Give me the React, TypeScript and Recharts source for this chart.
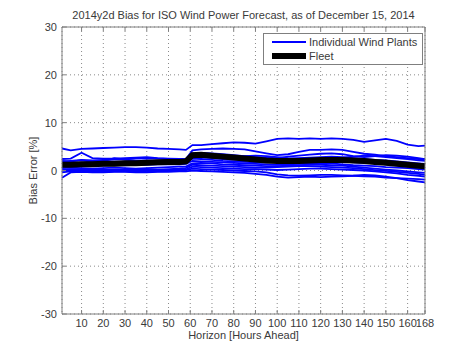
import { CartesianGrid, Legend, Line, LineChart, XAxis, YAxis } from "recharts";

// forecast horizon (hours ahead) at which values were read
const hours = [
	1, 5, 10, 15, 20, 25, 30, 35, 40, 45, 50, 55, 58, 61, 65, 70, 75, 80, 85, 90, 95, 100, 105, 110, 115, 120,
	125, 130, 135, 140, 145, 150, 155, 160, 165, 168,
];

const xTicks = [10, 20, 30, 40, 50, 60, 70, 80, 90, 100, 110, 120, 130, 140, 150, 160, 168];
const yTicks = [-30, -20, -10, 0, 10, 20, 30];

// bias error [%] per individual wind plant
const plant1 = [4.6, 4.2, 4.5, 4.6, 4.7, 4.8, 4.9, 4.9, 4.8, 4.6, 4.5, 4.4, 4.3, 5.3, 5.3, 5.5, 5.7, 5.9, 5.8, 5.6, 6.1, 6.6, 6.7, 6.6, 6.7, 6.6, 6.7, 6.6, 6.4, 6.0, 6.3, 6.6, 6.2, 5.4, 5.1, 5.2];
const plant2 = [2.4, 2.5, 3.7, 2.6, 2.5, 2.5, 2.6, 2.7, 2.8, 2.6, 2.5, 2.4, 2.4, 4.2, 4.4, 4.5, 4.6, 4.5, 4.4, 4.0, 3.6, 3.2, 3.4, 3.9, 4.3, 4.3, 4.4, 4.3, 3.9, 3.5, 3.3, 3.0, 2.8, 2.6, 2.4, 2.3];
const plant3 = [1.8, 2.0, 2.2, 2.1, 2.2, 2.3, 2.4, 2.5, 2.6, 2.5, 2.4, 2.3, 2.3, 3.6, 3.7, 3.6, 3.4, 3.2, 3.0, 2.8, 2.7, 2.6, 2.9, 3.1, 3.3, 3.5, 3.6, 3.4, 3.0, 2.8, 3.0, 3.2, 3.1, 2.9, 2.6, 2.4];
const plant4 = [1.5, 1.6, 1.6, 1.7, 1.8, 1.8, 1.9, 2.0, 2.1, 2.0, 1.9, 2.0, 2.1, 3.0, 2.8, 2.6, 2.4, 2.3, 2.2, 2.1, 2.0, 2.2, 2.4, 2.6, 2.7, 2.8, 2.9, 2.8, 2.6, 2.4, 2.2, 2.1, 1.9, 1.7, 1.5, 1.4];
const plant5 = [1.0, 1.1, 1.2, 1.2, 1.3, 1.4, 1.4, 1.5, 1.5, 1.6, 1.6, 1.7, 1.7, 2.5, 2.4, 2.2, 2.0, 1.9, 1.8, 1.7, 1.7, 1.8, 1.9, 2.0, 2.1, 2.1, 2.0, 1.9, 1.7, 1.6, 1.5, 1.3, 1.1, 0.9, 0.7, 0.6];
const plant6 = [0.8, 0.9, 0.9, 1.0, 1.0, 1.1, 1.1, 1.2, 1.2, 1.3, 1.3, 1.3, 1.4, 2.0, 1.9, 1.8, 1.7, 1.6, 1.5, 1.4, 1.3, 1.2, 1.3, 1.4, 1.5, 1.6, 1.5, 1.3, 1.1, 1.0, 0.9, 0.7, 0.6, 0.5, 0.3, 0.2];
const plant7 = [0.5, 0.6, 0.5, 0.4, 0.5, 0.6, 0.5, 0.4, 0.5, 0.6, 0.7, 0.8, 0.8, 1.5, 1.6, 1.5, 1.3, 1.2, 1.1, 1.0, 0.9, 0.9, 1.0, 1.1, 1.2, 1.2, 1.1, 1.0, 0.8, 0.6, 0.4, 0.2, 0.0, -0.2, -0.4, -0.5];
const plant8 = [0.2, 0.3, 0.3, 0.2, 0.1, 0.1, 0.2, 0.3, 0.3, 0.2, 0.3, 0.4, 0.5, 1.2, 1.1, 1.0, 0.9, 0.8, 0.7, 0.6, 0.6, 0.7, 0.8, 0.9, 0.9, 0.8, 0.7, 0.6, 0.5, 0.3, 0.1, -0.1, -0.3, -0.5, -0.7, -0.9];
const plant9 = [0.0, 0.1, 0.0, -0.1, 0.0, 0.0, 0.1, 0.0, -0.1, 0.0, 0.1, 0.2, 0.2, 0.8, 0.7, 0.6, 0.5, 0.4, 0.3, 0.3, 0.2, 0.1, 0.2, 0.3, 0.4, 0.4, 0.3, 0.2, 0.1, 0.0, -0.2, -0.4, -0.6, -0.9, -1.1, -1.3];
const plant10 = [-0.4, -0.2, -0.2, -0.3, -0.3, -0.2, -0.2, -0.3, -0.3, -0.2, -0.1, 0.0, 0.1, 0.4, 0.3, 0.2, 0.1, 0.0, -0.1, -0.2, -0.4, -0.8, -1.0, -1.1, -1.0, -0.9, -0.9, -1.0, -1.1, -1.2, -1.3, -1.5, -1.6, -1.7, -1.8, -1.9];
const plant11 = [-1.5, -0.4, -0.3, -0.4, -0.4, -0.3, -0.3, -0.4, -0.4, -0.3, -0.3, -0.2, -0.2, 0.0, -0.1, -0.2, -0.3, -0.4, -0.5, -0.7, -0.9, -1.3, -1.5, -1.4, -1.3, -1.4, -1.3, -1.2, -1.1, -0.9, -1.0, -1.3, -1.6, -2.0, -2.3, -2.5];
const plant12 = [2.0, 1.9, 2.1, 1.8, 1.9, 2.6, 2.3, 2.0, 1.8, 1.7, 1.8, 1.9, 2.0, 2.8, 2.9, 2.8, 2.7, 2.9, 3.0, 3.1, 3.0, 2.8, 2.6, 2.5, 2.4, 2.5, 2.6, 2.7, 2.9, 3.1, 3.0, 2.8, 2.6, 2.4, 2.1, 2.0];

// fleet-wide bias error [%]
const fleet = [1.2, 1.2, 1.3, 1.3, 1.4, 1.4, 1.5, 1.5, 1.6, 1.7, 1.8, 1.8, 1.9, 3.2, 3.3, 3.1, 2.9, 2.7, 2.5, 2.3, 2.1, 2.0, 2.0, 2.0, 2.1, 2.2, 2.2, 2.2, 2.1, 2.0, 1.8, 1.6, 1.4, 1.2, 1.0, 0.9];

const plants = [plant1, plant2, plant3, plant4, plant5, plant6, plant7, plant8, plant9, plant10, plant11, plant12];

const data = hours.map((h, i) => {
	const row: Record<string, number> = { h, fleet: fleet[i] };
	plants.forEach((p, j) => {
		row[`p${j}`] = p[i];
	});
	return row;
});

const FONT = "'Liberation Sans', Arial, sans-serif";
const TEXT = "#3a3a3a";
const FRAME = "#7f7f7f";
const TICK = 4;

function BottomTick(props: any) {
	const { x, y, payload } = props;
	return (
		<g>
			<line x1={x} x2={x} y1={y} y2={y - TICK} stroke={FRAME} />
			<text x={x} y={y + 13} textAnchor="middle" fontSize={11} fontFamily={FONT} fill={TEXT}>
				{payload.value}
			</text>
		</g>
	);
}

function TopTick(props: any) {
	const { x, y } = props;
	return <line x1={x} x2={x} y1={y} y2={y + TICK} stroke={FRAME} />;
}

function LeftTick(props: any) {
	const { x, y, payload } = props;
	return (
		<g>
			<line x1={x} x2={x + TICK} y1={y} y2={y} stroke={FRAME} />
			<text x={x - 5} y={y + 4} textAnchor="end" fontSize={11} fontFamily={FONT} fill={TEXT}>
				{payload.value}
			</text>
		</g>
	);
}

function RightTick(props: any) {
	const { x, y } = props;
	return <line x1={x} x2={x - TICK} y1={y} y2={y} stroke={FRAME} />;
}

function LegendBox() {
	const row = { display: "flex", alignItems: "center", height: 14 };
	const label = { fontFamily: FONT, fontSize: 11, color: TEXT, marginLeft: 3 };
	return (
		<div
			style={{
				width: 150,
				height: 28,
				border: `1px solid ${FRAME}`,
				background: "#fff",
				padding: "1px 0 1px 8px",
				boxSizing: "content-box",
			}}
		>
			<div style={row}>
				<svg width={34} height={8}>
					<line x1={0} x2={34} y1={4} y2={4} stroke="#0000ff" strokeWidth={2} />
				</svg>
				<span style={label}>Individual Wind Plants</span>
			</div>
			<div style={row}>
				<svg width={34} height={8}>
					<line x1={0} x2={34} y1={4} y2={4} stroke="#000" strokeWidth={6} />
				</svg>
				<span style={label}>Fleet</span>
			</div>
		</div>
	);
}

export default function App() {
	return (
		<div style={{ position: "absolute", left: 0, top: 0, background: "#fff" }}>
			<LineChart width={471} height={353} data={data} margin={{ top: 17, right: 36, bottom: 19, left: 32 }}>
				<CartesianGrid stroke="#8a8a8a" strokeDasharray="1 3" />
				<XAxis
					dataKey="h"
					type="number"
					domain={[1, 168]}
					ticks={xTicks}
					interval={0}
					height={20}
					tickSize={0}
					tickMargin={0}
					stroke={FRAME}
					tick={<BottomTick />}
					label={{ value: "Horizon [Hours Ahead]", position: "bottom", offset: -3, fontSize: 11, fontFamily: FONT, fill: TEXT }}
				/>
				<XAxis
					xAxisId="top"
					orientation="top"
					dataKey="h"
					type="number"
					domain={[1, 168]}
					ticks={xTicks}
					interval={0}
					height={10}
					tickSize={0}
					tickMargin={0}
					stroke={FRAME}
					tick={<TopTick />}
					label={{
						value: "2014y2d Bias for ISO Wind Power Forecast, as of December 15, 2014",
						position: "top",
						offset: -2,
						fontSize: 11,
						fontFamily: FONT,
						fill: TEXT,
					}}
				/>
				<YAxis
					type="number"
					domain={[-30, 30]}
					ticks={yTicks}
					interval={0}
					width={30}
					tickSize={0}
					tickMargin={0}
					stroke={FRAME}
					tick={<LeftTick />}
					label={{
						value: "Bias Error [%]",
						angle: -90,
						position: "left",
						offset: -1,
						fontSize: 11,
						fontFamily: FONT,
						fill: TEXT,
						style: { textAnchor: "middle" },
					}}
				/>
				<YAxis
					yAxisId="right"
					orientation="right"
					type="number"
					domain={[-30, 30]}
					ticks={yTicks}
					interval={0}
					width={10}
					tickSize={0}
					tickMargin={0}
					stroke={FRAME}
					tick={<RightTick />}
				/>
				<Legend
					layout="vertical"
					align="center"
					verticalAlign="middle"
					content={() => <LegendBox />}
					wrapperStyle={{ left: 263, top: 33, width: "auto" }}
				/>
				{plants.map((_, j) => (
					<Line
						key={j}
						dataKey={`p${j}`}
						stroke="#0000ff"
						strokeWidth={1.8}
						dot={false}
						isAnimationActive={false}
						legendType="none"
					/>
				))}
				<Line dataKey="fleet" stroke="#000" strokeWidth={6} dot={false} isAnimationActive={false} />
			</LineChart>
		</div>
	);
}
